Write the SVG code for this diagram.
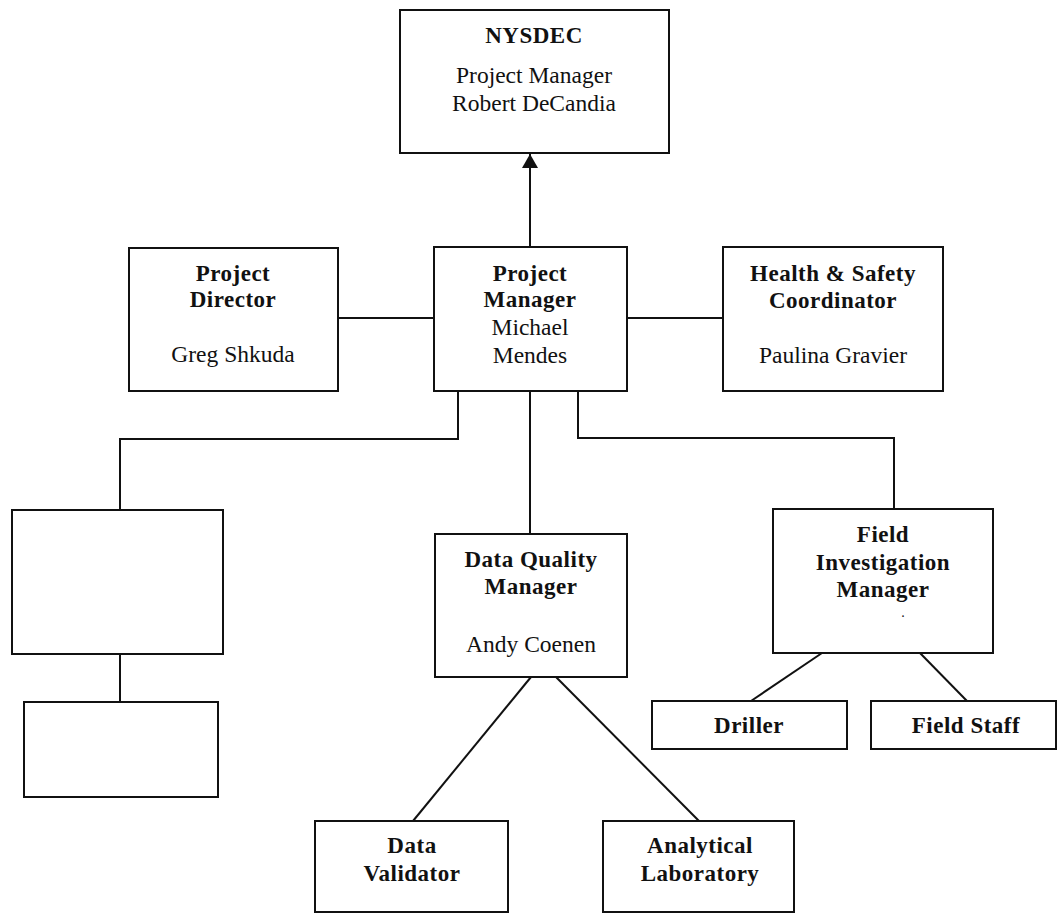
<svg xmlns="http://www.w3.org/2000/svg" width="1058" height="915" viewBox="0 0 1058 915">
<style>
  .box { fill: #ffffff; stroke: #111111; stroke-width: 2; }
  .ln { fill: none; stroke: #111111; stroke-width: 2; }
  text { font-family: "Liberation Serif", "Times New Roman", serif; fill: #111111; text-anchor: middle; }
  .b { font-weight: bold; font-size: 23px; letter-spacing: 0.5px; }
  .r { font-size: 23.5px; }
</style>
<defs>
  <marker id="arrow" viewBox="0 0 14 16" refX="14" refY="8" markerWidth="14" markerHeight="16" markerUnits="userSpaceOnUse" orient="auto">
    <path d="M0,0 L14,8 L0,16 Z" fill="#111111"/>
  </marker>
</defs>
<rect x="0" y="0" width="1058" height="915" fill="#ffffff"/>

<g id="connectors">
  <line class="ln" x1="530" y1="247" x2="530" y2="154" marker-end="url(#arrow)"/>
  <line class="ln" x1="338" y1="318" x2="434" y2="318"/>
  <line class="ln" x1="626" y1="318" x2="723" y2="318"/>
  <polyline class="ln" points="458,391 458,439 120,439 120,510"/>
  <line class="ln" x1="120" y1="654" x2="120" y2="702"/>
  <line class="ln" x1="530" y1="391" x2="530" y2="534"/>
  <polyline class="ln" points="578,391 578,438 894,438 894,509"/>
  <line class="ln" x1="531" y1="677" x2="413" y2="821"/>
  <line class="ln" x1="556" y1="677" x2="699" y2="821"/>
  <line class="ln" x1="822" y1="653" x2="751" y2="701"/>
  <line class="ln" x1="920" y1="653" x2="967" y2="701"/>
</g>

<g id="nysdec">
  <rect class="box" x="400" y="10" width="269" height="143"/>
  <text class="b" x="534" y="43">NYSDEC</text>
  <text class="r" x="534" y="83">Project Manager</text>
  <text class="r" x="534" y="111">Robert DeCandia</text>
</g>

<g id="project-director">
  <rect class="box" x="129" y="248" width="209" height="143"/>
  <text class="b" x="233" y="281">Project</text>
  <text class="b" x="233" y="307">Director</text>
  <text class="r" x="233" y="362">Greg Shkuda</text>
</g>

<g id="project-manager">
  <rect class="box" x="434" y="247" width="193" height="144"/>
  <text class="b" x="530" y="281">Project</text>
  <text class="b" x="530" y="307">Manager</text>
  <text class="r" x="530" y="335">Michael</text>
  <text class="r" x="530" y="363">Mendes</text>
</g>

<g id="health-safety">
  <rect class="box" x="723" y="247" width="220" height="144"/>
  <text class="b" x="833" y="281">Health &amp; Safety</text>
  <text class="b" x="833" y="308">Coordinator</text>
  <text class="r" x="833" y="363">Paulina Gravier</text>
</g>

<g id="empty-box-1">
  <rect class="box" x="12" y="510" width="211" height="144"/>
</g>

<g id="empty-box-2">
  <rect class="box" x="24" y="702" width="194" height="95"/>
</g>

<g id="data-quality-manager">
  <rect class="box" x="435" y="534" width="192" height="143"/>
  <text class="b" x="531" y="567">Data Quality</text>
  <text class="b" x="531" y="594">Manager</text>
  <text class="r" x="531" y="652">Andy Coenen</text>
</g>

<g id="field-investigation-manager">
  <rect class="box" x="773" y="509" width="220" height="144"/>
  <text class="b" x="883" y="542">Field</text>
  <text class="b" x="883" y="570">Investigation</text>
  <text class="b" x="883" y="597">Manager</text>
  <text class="r" x="903" y="617" style="font-size:14px">.</text>
</g>

<g id="driller">
  <rect class="box" x="652" y="701" width="195" height="48"/>
  <text class="b" x="749" y="733">Driller</text>
</g>

<g id="field-staff">
  <rect class="box" x="871" y="701" width="185" height="48"/>
  <text class="b" x="966" y="733">Field Staff</text>
</g>

<g id="data-validator">
  <rect class="box" x="315" y="821" width="193" height="91"/>
  <text class="b" x="412" y="853">Data</text>
  <text class="b" x="412" y="881">Validator</text>
</g>

<g id="analytical-laboratory">
  <rect class="box" x="603" y="821" width="191" height="91"/>
  <text class="b" x="700" y="853">Analytical</text>
  <text class="b" x="700" y="881">Laboratory</text>
</g>
</svg>
